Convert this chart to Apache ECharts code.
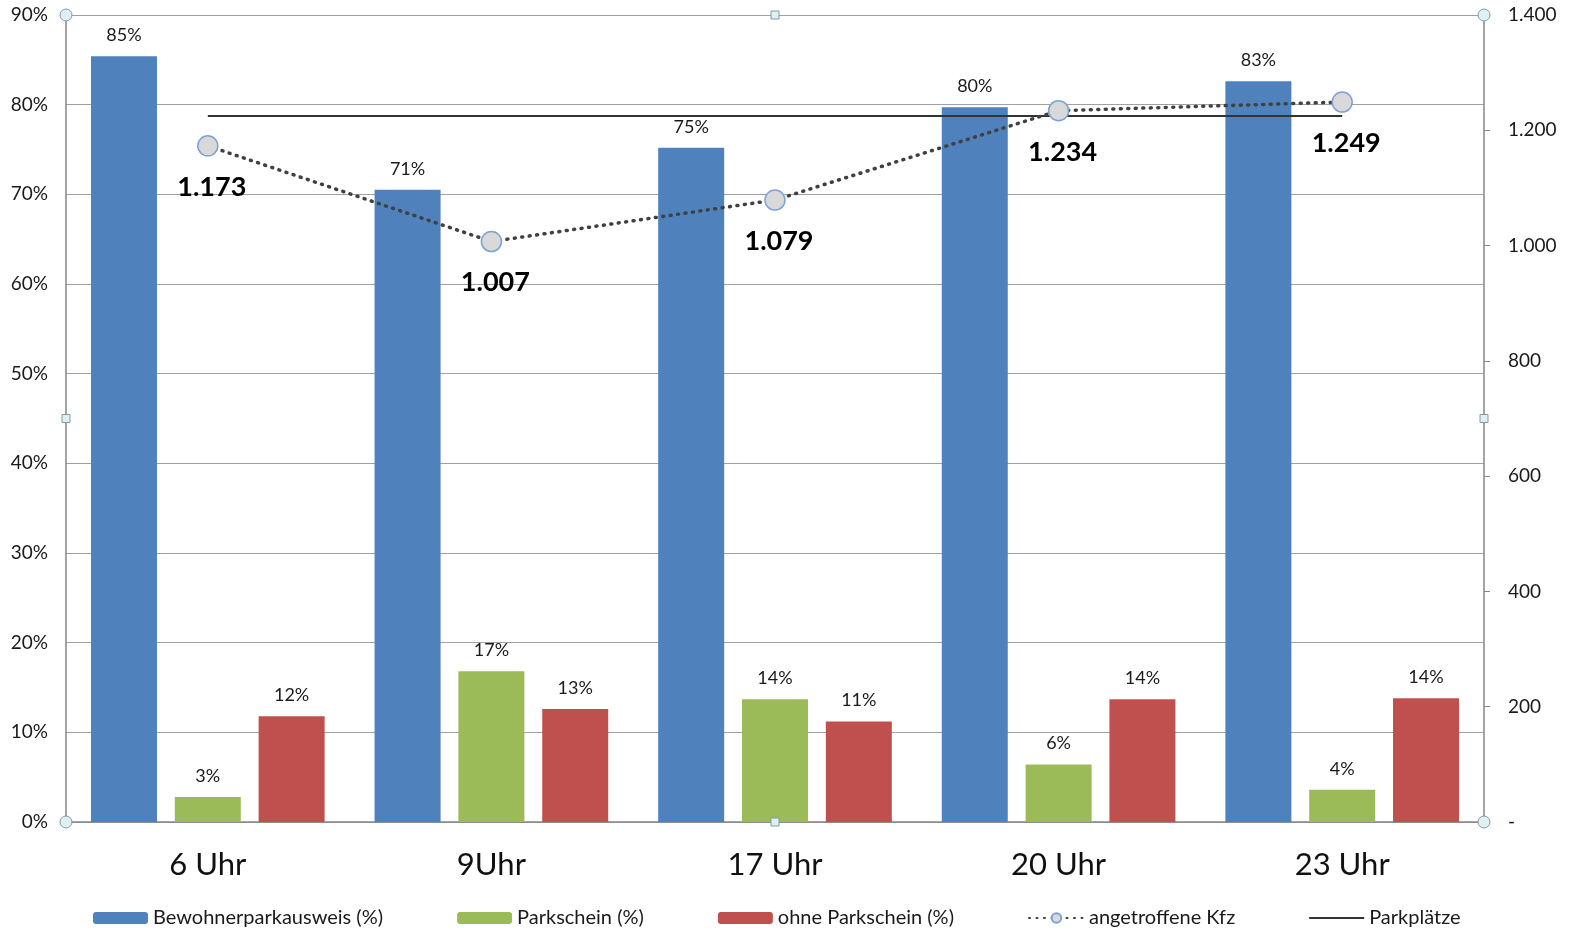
<!DOCTYPE html>
<html>
<head>
<meta charset="utf-8">
<script src="https://cdn.jsdelivr.net/npm/echarts@6/dist/echarts.min.js"></script>
<style>
  html, body { margin: 0; padding: 0; background: #fff; }
  #chart { width: 1577px; height: 936px; }
</style>
</head>
<body>
<div id="chart"></div>
<script>
  // Daten
  var categories = ['6 Uhr', '9Uhr', '17 Uhr', '20 Uhr', '23 Uhr'];
  var bewohner = [85.4, 70.5, 75.2, 79.7, 82.6];
  var parkschein = [2.8, 16.8, 13.7, 6.4, 3.6];
  var ohneParkschein = [11.8, 12.6, 11.2, 13.7, 13.8];
  var kfz = [1173, 1007, 1079, 1234, 1249];
  var parkplaetze = [1225, 1225, 1225, 1225, 1225];
  var leftTicks = { min: 0, max: 90, interval: 10 };
  var rightTicks = { min: 0, max: 1400, interval: 200 };

  var FONT = 'Lato, "Open Sans", sans-serif';

  function deNum(v) {
    return String(v).replace(/\B(?=(\d{3})+(?!\d))/g, '.');
  }

  function barSeries(name, data, color) {
    return {
      name: name,
      type: 'bar',
      data: data,
      barWidth: 66,
      barGap: '27%',
      itemStyle: { color: color },
      label: {
        show: true,
        position: 'top',
        distance: 12,
        color: '#1a1a1a',
        fontFamily: FONT,
        fontSize: 18,
        formatter: function (p) { return Math.round(p.value) + '%'; }
      },
      z: 2
    };
  }

  var myChart = echarts.init(document.getElementById('chart'));

  var option = {
    animation: false,
    textStyle: { fontFamily: FONT },
    grid: { left: 66, right: 93, top: 15, bottom: 114, containLabel: false },
    legend: {
      bottom: 3,
      left: 88,
      itemWidth: 55,
      itemHeight: 12,
      itemGap: 74,
      textStyle: { fontSize: 20, color: '#1a1a1a', fontFamily: FONT },
      data: [
        'Bewohnerparkausweis (%)',
        'Parkschein (%)',
        'ohne Parkschein (%)',
        'angetroffene Kfz',
        { name: 'Parkplätze', icon: 'path://M0,0 L55,0 L55,2 L0,2 Z' }
      ]
    },
    xAxis: {
      type: 'category',
      data: categories,
      axisLine: { lineStyle: { color: '#868686', width: 1.5 } },
      axisTick: { show: false },
      axisLabel: { fontSize: 31, color: '#111', margin: 27, fontFamily: FONT }
    },
    yAxis: [
      {
        type: 'value',
        min: leftTicks.min,
        max: leftTicks.max,
        interval: leftTicks.interval,
        axisLine: { show: true, lineStyle: { color: '#868686', width: 1.5 } },
        axisTick: { show: false },
        axisLabel: {
          fontSize: 19, color: '#1a1a1a', margin: 18, fontFamily: FONT,
          formatter: function (v) { return v + '%'; }
        },
        splitLine: { lineStyle: { color: '#a0a0a0', width: 1.2 } }
      },
      {
        type: 'value',
        min: rightTicks.min,
        max: rightTicks.max,
        interval: rightTicks.interval,
        position: 'right',
        axisLine: { show: true, lineStyle: { color: '#868686', width: 1.5 } },
        axisTick: { show: true, length: 6, lineStyle: { color: '#868686' } },
        axisLabel: {
          fontSize: 19, color: '#1a1a1a', margin: 24, fontFamily: FONT,
          formatter: function (v) { return v === 0 ? '-' : deNum(v); }
        },
        splitLine: { show: false }
      }
    ],
    series: [
      barSeries('Bewohnerparkausweis (%)', bewohner, '#4f81bd'),
      barSeries('Parkschein (%)', parkschein, '#9bbb59'),
      barSeries('ohne Parkschein (%)', ohneParkschein, '#c0504d'),
      {
        name: 'Parkplätze',
        type: 'line',
        yAxisIndex: 1,
        data: parkplaetze,
        symbol: 'none',
        lineStyle: { color: '#333', width: 2 },
        itemStyle: { color: '#333' },
        z: 5
      },
      {
        name: 'angetroffene Kfz',
        type: 'line',
        yAxisIndex: 1,
        data: kfz,
        symbol: 'circle',
        symbolSize: 20,
        lineStyle: { color: '#404040', width: 3.5, type: [1, 6.5], cap: 'round' },
        itemStyle: { color: '#d9d9d9', borderColor: '#7da3d6', borderWidth: 1.5 },
        label: {
          show: true,
          position: 'bottom',
          distance: 17,
          offset: [4, 0],
          fontSize: 27,
          fontWeight: 'bold',
          color: '#000',
          fontFamily: FONT,
          formatter: function (p) { return deNum(p.value); }
        },
        z: 6
      }
    ]
  };

  myChart.setOption(option);

  // Auswahl-Griffe des Diagrammbereichs (wie im Original-Screenshot)
  function addHandles() {
    var r = myChart.getModel().getComponent('grid').coordinateSystem.getRect();
    var pts = [
      [r.x, r.y, 'c'], [r.x + r.width / 2, r.y, 's'], [r.x + r.width, r.y, 'c'],
      [r.x, r.y + r.height / 2, 's'], [r.x + r.width, r.y + r.height / 2, 's'],
      [r.x, r.y + r.height, 'c'], [r.x + r.width / 2, r.y + r.height, 's'], [r.x + r.width, r.y + r.height, 'c']
    ];
    var els = pts.map(function (p) {
      var style = { fill: '#dff0f4', stroke: '#7f9aa8', lineWidth: 1 };
      if (p[2] === 'c') {
        return { type: 'circle', shape: { cx: p[0], cy: p[1], r: 6 }, style: style, z: 100 };
      }
      return { type: 'rect', shape: { x: p[0] - 4, y: p[1] - 4, width: 8, height: 8 }, style: style, z: 100 };
    });
    myChart.setOption({ graphic: els });
  }
  addHandles();

  window.addEventListener('resize', function () {
    myChart.resize();
    addHandles();
  });
</script>
</body>
</html>
